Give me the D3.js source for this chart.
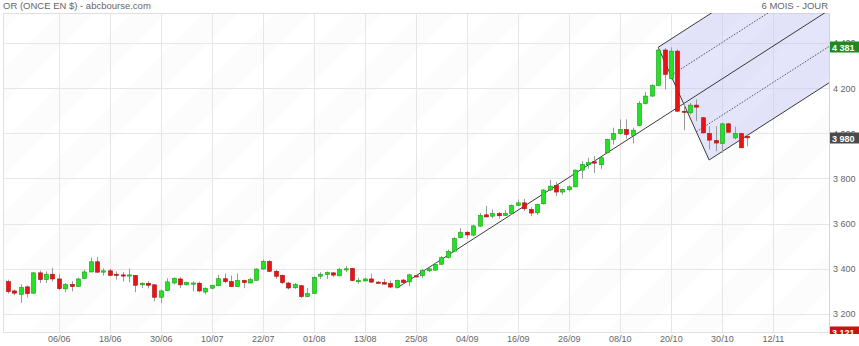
<!DOCTYPE html>
<html>
<head>
<meta charset="utf-8">
<script src="https://cdn.jsdelivr.net/npm/d3@7"></script>
<style>
  body { margin: 0; background: #fff; }
  svg { display: block; }
  text { font-family: "Liberation Sans", Arial, sans-serif; }
</style>
</head>
<body>
<svg id="chart" width="859" height="346"></svg>
<script>
// Daily gold quotes (USD per ounce)
const dates = [
  "27/05","28/05","29/05","30/05","02/06","03/06","04/06","05/06","06/06","09/06",
  "10/06","11/06","12/06","13/06","16/06","17/06","18/06","19/06","20/06","23/06",
  "24/06","25/06","26/06","27/06","30/06","01/07","02/07","03/07","04/07","07/07",
  "08/07","09/07","10/07","11/07","14/07","15/07","16/07","17/07","18/07","21/07",
  "22/07","23/07","24/07","25/07","28/07","29/07","30/07","31/07","01/08","04/08",
  "05/08","06/08","07/08","08/08","11/08","12/08","13/08","14/08","15/08","18/08",
  "19/08","20/08","21/08","22/08","25/08","26/08","27/08","28/08","29/08","01/09",
  "02/09","03/09","04/09","05/09","08/09","09/09","10/09","11/09","12/09","15/09",
  "16/09","17/09","18/09","19/09","22/09","23/09","24/09","25/09","26/09","29/09",
  "30/09","01/10","02/10","03/10","06/10","07/10","08/10","09/10","10/10","13/10",
  "14/10","15/10","16/10","17/10","20/10","21/10","22/10","23/10","24/10","27/10",
  "28/10","29/10","30/10","31/10","03/11","04/11","05/11"
];
const open = [
  3343,3302,3287,3320,3292,3382,3352,3376,3355,3311,3331,3322,3357,3386,3431,3385,3391,3376,3373,3368,
  3370,3329,3336,3329,3274,3303,3337,3355,3329,3336,3336,3297,3314,3325,3356,3343,3321,3348,3337,3349,
  3399,3432,3389,3371,3337,3316,3325,3277,3291,3367,3374,3382,3369,3398,3401,3345,3346,3355,3341,3339,
  3335,3318,3350,3342,3369,3369,3391,3394,3420,3450,3478,3538,3562,3549,3589,3639,3633,3645,3636,3645,
  3681,3692,3663,3648,3688,3749,3769,3740,3750,3763,3837,3861,3874,3861,3914,3973,3999,4017,3991,4035,
  4132,4165,4212,4369,4242,4364,4098,4091,4125,4069,3999,3968,3955,4042,3980,3999,3987
];
const high = [
  3352,3308,3331,3326,3385,3392,3389,3404,3376,3337,3345,3360,3396,3450,3453,3402,3400,3388,3385,3401,
  3373,3340,3345,3332,3308,3358,3362,3364,3343,3345,3343,3317,3329,3373,3379,3370,3379,3352,3361,3402,
  3441,3438,3396,3374,3342,3337,3328,3315,3367,3385,3388,3385,3404,3412,3404,3360,3360,3378,3345,3355,
  3348,3352,3355,3379,3372,3400,3404,3426,3456,3485,3540,3581,3565,3595,3648,3678,3663,3651,3660,3685,
  3707,3710,3673,3688,3752,3793,3784,3756,3769,3840,3877,3892,3899,3896,3976,4025,4062,4062,4025,4143,
  4183,4217,4375,4378,4381,4372,4135,4135,4150,4073,4032,4032,4047,4047,4029,4002,3995
];
const low = [
  3290,3283,3249,3272,3289,3337,3337,3343,3305,3296,3300,3320,3355,3385,3382,3370,3367,3352,3343,3340,
  3296,3314,3313,3256,3249,3300,3331,3314,3326,3300,3296,3287,3311,3323,3337,3320,3320,3314,3336,3348,
  3396,3385,3355,3333,3308,3311,3271,3274,3289,3355,3355,3364,3366,3385,3345,3333,3344,3338,3335,3330,
  3314,3316,3335,3324,3363,3360,3385,3391,3418,3446,3475,3534,3533,3544,3586,3626,3624,3622,3633,3639,
  3678,3656,3633,3639,3685,3744,3722,3728,3743,3760,3799,3843,3825,3843,3911,3951,3995,3976,3955,4032,
  4128,4162,4209,4194,4239,4095,4014,4084,4054,3999,3929,3921,3914,4003,3973,3936,3943
];
const close = [
  3299,3292,3317,3290,3382,3352,3376,3355,3312,3330,3322,3355,3386,3431,3385,3391,3371,3373,3368,3373,
  3327,3336,3327,3274,3302,3342,3358,3329,3340,3337,3302,3314,3327,3356,3343,3321,3348,3339,3352,3399,
  3433,3389,3367,3339,3315,3330,3277,3290,3362,3376,3383,3372,3397,3400,3348,3348,3355,3341,3336,3332,
  3319,3348,3339,3373,3366,3392,3400,3420,3449,3477,3534,3562,3550,3590,3636,3630,3645,3635,3645,3681,
  3692,3666,3647,3685,3749,3766,3740,3752,3763,3837,3862,3870,3868,3892,3973,3999,4017,3995,4014,4132,
  4165,4212,4369,4261,4364,4098,4094,4125,4116,4002,3970,3957,4042,4005,3999,3936,3980
];

// Axis ticks
const yTicks = [3200, 3400, 3600, 3800, 4000, 4200, 4400];
const xTickLabels = ["06/06","18/06","30/06","10/07","22/07","01/08","13/08","25/08",
                     "04/09","16/09","26/09","08/10","20/10","30/10","12/11"];

// Andrews pitchfork pivots (bar of each pivot, price)
const forkBars = ["20/08", "16/10", "28/10"];
const forkPrices = [3314, 4381, 3882];

// Price tags on the right axis
const tagValues = [4381, 3980, 3121];
const tagColors = ["#1f8a1f", "#4a4a4a", "#cc1111"];

// ---------------------------------------------------------------
const W = 859, H = 346;
const plot = { left: 3, right: 829, top: 13, bottom: 332 };
const svg = d3.select("#chart");
const fr = d3.formatLocale({ decimal: ",", thousands: " ", grouping: [3], currency: ["", ""] });
const fmt = fr.format(",d");

const x = d3.scaleLinear().domain([-0.75, 128.8]).range([plot.left, plot.right]);
const y = d3.scaleLinear().domain([3120, 4533]).range([plot.bottom, plot.top]);

const defs = svg.append("defs");
defs.append("clipPath").attr("id", "plotClip")
  .append("rect").attr("x", plot.left).attr("y", plot.top)
  .attr("width", plot.right - plot.left).attr("height", plot.bottom - plot.top);

// very faint diagonal banding of the plot background
const pat = defs.append("pattern").attr("id", "bands")
  .attr("patternUnits", "userSpaceOnUse").attr("width", 51).attr("height", 51)
  .attr("patternTransform", "rotate(45)");
pat.append("rect").attr("width", 51).attr("height", 51).attr("fill", "#ffffff");
pat.append("rect").attr("width", 25).attr("height", 51).attr("fill", "#fcfcfc");

svg.append("rect").attr("x", plot.left).attr("y", plot.top)
  .attr("width", plot.right - plot.left).attr("height", plot.bottom - plot.top)
  .attr("fill", "url(#bands)");

// tick positions: every label maps to its bar, later dates continue the 8-bar spacing
const xTickIdx = [];
xTickLabels.forEach((l, i) => {
  const k = dates.indexOf(l);
  xTickIdx.push(k >= 0 ? k : xTickIdx[i - 1] + 8);
});

// gridlines
const grid = svg.append("g");
grid.selectAll("line.h").data(yTicks).join("line")
  .attr("x1", plot.left).attr("x2", plot.right)
  .attr("y1", d => Math.round(y(d)) + 0.5).attr("y2", d => Math.round(y(d)) + 0.5)
  .attr("stroke", "#e6e6e6");
grid.selectAll("line.v").data(xTickIdx).join("line")
  .attr("y1", plot.top).attr("y2", plot.bottom)
  .attr("x1", d => Math.round(x(d)) + 0.5).attr("x2", d => Math.round(x(d)) + 0.5)
  .attr("stroke", "#e6e6e6");

// frame
svg.append("path")
  .attr("d", `M${plot.left + 0.5},${plot.bottom + 0.5}V${plot.top + 0.5}H${plot.right + 0.5}V${plot.bottom + 0.5}H${plot.left + 0.5}`)
  .attr("fill", "none").attr("stroke", "#e0e0e0");
svg.append("line").attr("x1", plot.right + 0.5).attr("x2", plot.right + 0.5)
  .attr("y1", plot.top).attr("y2", plot.bottom + 2).attr("stroke", "#d4d4d4");

// pitchfork geometry
const fb = forkBars.map(d => dates.indexOf(d));
const mid = [(fb[1] + fb[2]) / 2, (forkPrices[1] + forkPrices[2]) / 2];
const slope = (mid[1] - forkPrices[0]) / (mid[0] - fb[0]);
const farBar = 140;
const lineAt = (b0, p0) => [[b0, p0], [farBar, p0 + slope * (farBar - b0)]];

const fork = svg.append("g").attr("clip-path", "url(#plotClip)");
const up = lineAt(fb[1], forkPrices[1]);
const dn = lineAt(fb[2], forkPrices[2]);
const poly = [up[0], up[1], dn[1], dn[0]];
fork.append("path")
  .attr("d", "M" + poly.map(p => [x(p[0]), y(p[1])].join(",")).join("L") + "Z")
  .attr("fill", "rgba(190,190,245,0.42)");

// candles
const bars = d3.range(dates.length);
const cg = svg.append("g").attr("clip-path", "url(#plotClip)");
const bw = 4;
cg.selectAll("line.wick").data(bars).join("line")
  .attr("x1", i => Math.round(x(i)) + 0.5).attr("x2", i => Math.round(x(i)) + 0.5)
  .attr("y1", i => y(high[i])).attr("y2", i => y(low[i]))
  .attr("stroke", "#9a9a9a").attr("stroke-width", 1);
cg.selectAll("rect.body").data(bars).join("rect")
  .attr("x", i => Math.round(x(i)) + 0.5 - bw / 2)
  .attr("y", i => y(Math.max(open[i], close[i])))
  .attr("width", bw)
  .attr("height", i => Math.max(1.2, Math.abs(y(open[i]) - y(close[i]))))
  .attr("fill", i => close[i] >= open[i] ? "#1fe41f" : "#e81414")
  .attr("stroke", i => close[i] >= open[i] ? "#169c16" : "#a80c0c")
  .attr("stroke-width", 0.6);

// pitchfork lines
const pl = p => `M${x(p[0][0])},${y(p[0][1])}L${x(p[1][0])},${y(p[1][1])}`;
const solid = [lineAt(fb[0], forkPrices[0]), up, dn,
               [[fb[1], forkPrices[1]], [fb[2], forkPrices[2]]]];
const q1 = [(fb[1] + mid[0]) / 2, (forkPrices[1] + mid[1]) / 2];
const q3 = [(fb[2] + mid[0]) / 2, (forkPrices[2] + mid[1]) / 2];
const dotted = [lineAt(q1[0], q1[1]), lineAt(q3[0], q3[1])];
fork.selectAll("path.s").data(solid).join("path")
  .attr("d", pl).attr("fill", "none").attr("stroke", "#3a3a3a").attr("stroke-width", 1);
fork.selectAll("path.d").data(dotted).join("path")
  .attr("d", pl).attr("fill", "none").attr("stroke", "#555").attr("stroke-width", 1)
  .attr("stroke-dasharray", "1.5,1.5");

// y axis labels
const yAxis = svg.append("g").attr("transform", `translate(${plot.right},0)`)
  .call(d3.axisRight(y).tickValues(yTicks).tickFormat(fmt).tickSize(0).tickPadding(4));
yAxis.select(".domain").remove();
yAxis.selectAll("text").attr("fill", "#666").style("font-size", "9px")
  .style("font-family", '"Liberation Sans", Arial, sans-serif');

// x axis labels
const xAxis = svg.append("g").attr("transform", `translate(0,${plot.bottom})`)
  .call(d3.axisBottom(x).tickValues(xTickIdx).tickFormat((d, i) => xTickLabels[i]).tickSize(0).tickPadding(4));
xAxis.select(".domain").remove();
xAxis.selectAll("text").attr("fill", "#666").style("font-size", "9px")
  .style("font-family", '"Liberation Sans", Arial, sans-serif');

// price tags
defs.append("clipPath").attr("id", "tagClip")
  .append("rect").attr("x", plot.right).attr("y", 0).attr("width", W - plot.right).attr("height", plot.bottom + 2);
const tags = svg.append("g").attr("clip-path", "url(#tagClip)");
tagValues.forEach((v, i) => {
  const yy = Math.round(y(v));
  tags.append("rect").attr("x", plot.right + 1).attr("y", yy - 5.5).attr("width", 30).attr("height", 11)
    .attr("fill", tagColors[i]);
  tags.append("text").attr("x", plot.right + 3).attr("y", yy + 3.5)
    .attr("fill", "#fff").style("font-size", "9px").style("font-weight", "bold").text(fmt(v));
});

// titles
svg.append("text").attr("x", 3).attr("y", 9).attr("fill", "#666").style("font-size", "9.5px")
  .text("OR (ONCE EN $) - abcbourse.com");
svg.append("text").attr("x", 828).attr("y", 9).attr("text-anchor", "end").attr("fill", "#666")
  .style("font-size", "9.5px").text("6 MOIS - JOUR");
</script>
</body>
</html>
